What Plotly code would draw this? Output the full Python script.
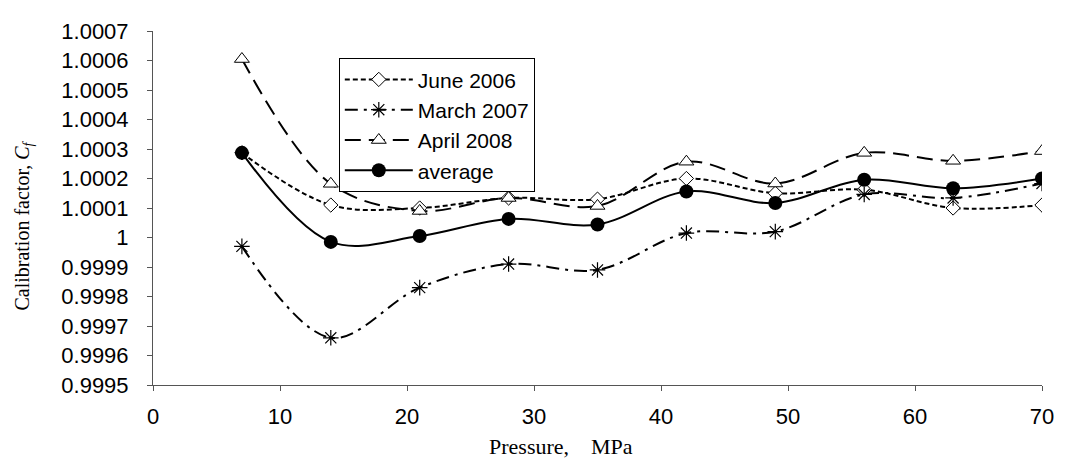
import plotly.graph_objects as go

pressure = [7, 14, 21, 28, 35, 42, 49, 56, 63, 70]
june_2006 = [1.000287, 1.000110, 1.000100, 1.000134, 1.000130, 1.000200, 1.000150, 1.000162, 1.000100, 1.000110]
march_2007 = [0.999970, 0.999660, 0.999830, 0.999910, 0.999890, 1.000015, 1.000020, 1.000146, 1.000134, 1.000183]
april_2008 = [1.000605, 1.000182, 1.000090, 1.000134, 1.000107, 1.000257, 1.000183, 1.000287, 1.000260, 1.000293]
average = [1.000287, 0.999985, 1.000005, 1.000063, 1.000044, 1.000156, 1.000117, 1.000196, 1.000167, 1.000200]

y_tickvals = [0.9995, 0.9996, 0.9997, 0.9998, 0.9999, 1.0, 1.0001, 1.0002, 1.0003, 1.0004, 1.0005, 1.0006, 1.0007]
y_ticktext = ["0.9995", "0.9996", "0.9997", "0.9998", "0.9999", "1", "1.0001", "1.0002", "1.0003", "1.0004", "1.0005", "1.0006", "1.0007"]
x_tickvals = [0, 10, 20, 30, 40, 50, 60, 70]

fig = go.Figure()
common = dict(mode="lines+markers", line_shape="spline")
fig.add_trace(go.Scatter(x=pressure, y=june_2006, name="June 2006",
                         line=dict(color="black", width=2, dash="5px,3px", smoothing=1),
                         marker=dict(symbol="diamond", size=11, color="white",
                                     line=dict(color="black", width=1)), **common))
fig.add_trace(go.Scatter(x=pressure, y=march_2007, name="March 2007",
                         line=dict(color="black", width=2, dash="13px,6px,3px,6px", smoothing=1),
                         marker=dict(symbol="asterisk-open", size=13,
                                     line=dict(color="black", width=1.2)), **common))
fig.add_trace(go.Scatter(x=pressure, y=april_2008, name="April 2008",
                         line=dict(color="black", width=2, dash="16px,8px", smoothing=1),
                         marker=dict(symbol="triangle-up", size=13, color="white",
                                     line=dict(color="black", width=1)), **common))
fig.add_trace(go.Scatter(x=pressure, y=average, name="average",
                         line=dict(color="black", width=2, smoothing=1),
                         marker=dict(symbol="circle", size=14, color="black"), **common))

# The page body has an 8px margin; sizes below compensate so the plot lands
# at the same window coordinates as the reference.
fig.update_layout(
    width=1057, height=455,
    margin=dict(l=145, r=13, t=11, b=78),
    paper_bgcolor="white", plot_bgcolor="white",
    font=dict(family="Liberation Sans, Arial, sans-serif", color="black"),
    showlegend=True,
    legend=dict(x=0.209, y=0.923, xanchor="left", yanchor="top",
                bgcolor="white", bordercolor="black", borderwidth=1,
                font=dict(size=21, family="Liberation Sans, Arial, sans-serif"),
                itemwidth=68, tracegroupgap=0),
    xaxis=dict(range=[0, 70], tickvals=x_tickvals, ticks="outside", ticklen=5,
               tickcolor="#555", showline=True, linecolor="#555", linewidth=1,
               showgrid=False, zeroline=False, ticklabeloverflow="allow",
               tickfont=dict(size=22), ticklabelstandoff=7),
    yaxis=dict(range=[0.9995, 1.0007], tickvals=y_tickvals, ticktext=y_ticktext,
               ticks="outside", ticklen=5, tickcolor="#555", showline=True,
               linecolor="#555", linewidth=1, showgrid=False, zeroline=False,
               ticklabeloverflow="allow",
               tickfont=dict(size=22), ticklabelstandoff=14),
    annotations=[
        dict(text="Pressure,    MPa", xref="paper", yref="paper", x=0.459, y=-0.175,
             xanchor="center", yanchor="middle", showarrow=False,
             font=dict(family="Liberation Serif, Times New Roman, serif", size=22)),
        dict(text="Calibration factor, <i>C<sub>f</sub></i>", xref="paper", yref="paper",
             x=-0.146, y=0.451, xanchor="center", yanchor="middle", textangle=-90,
             showarrow=False,
             font=dict(family="Liberation Serif, Times New Roman, serif", size=20)),
    ],
)

fig.write_html("out.html")
